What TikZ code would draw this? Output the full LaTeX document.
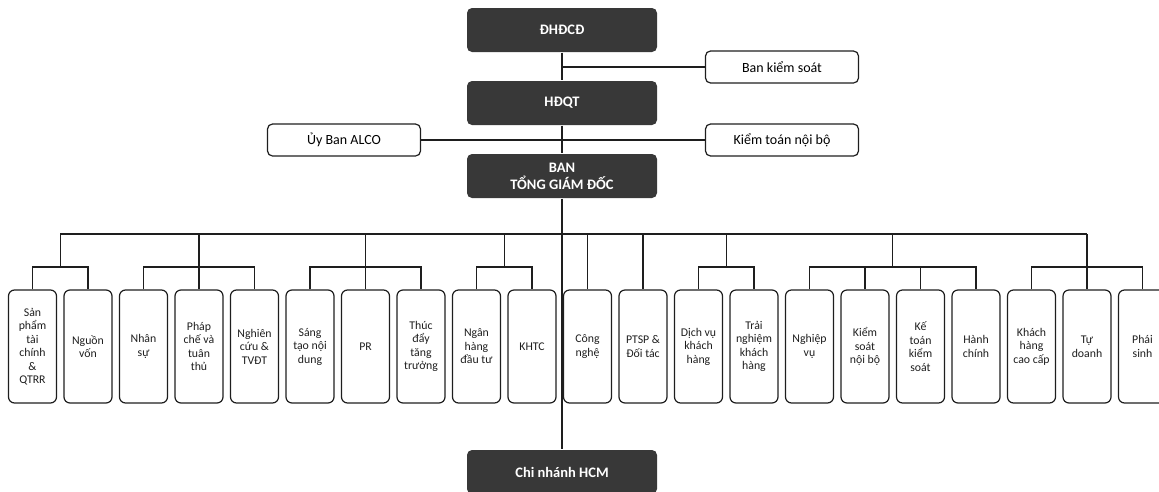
\documentclass[tikz,border=0pt]{standalone}
\usepackage{fontspec}
\setmainfont{Carlito}
\usetikzlibrary{calc}
\definecolor{boxdark}{RGB}{56,56,56}
\definecolor{inkgray}{RGB}{30,30,30}
\begin{document}
\begin{tikzpicture}[x=1pt,y=-1pt,line width=1.2pt,draw=inkgray,
	lead/.style={fill=boxdark,rounded corners=5pt,minimum width=190pt,minimum height=44pt,text=white,font=\fontsize{14.5}{17}\selectfont\bfseries,align=center,inner sep=0pt},
	side/.style={draw=inkgray,rounded corners=5pt,minimum width=153pt,minimum height=32pt,font=\fontsize{14}{16}\selectfont,inner sep=0pt},
	unit/.style={draw=inkgray,rounded corners=6pt,minimum width=48pt,minimum height=113pt,text=inkgray,font=\fontsize{11.8}{13.5}\selectfont,align=center,inner sep=0pt}]
	\useasboundingbox (0,0) rectangle (1159,491);
	\clip (0,0) rectangle (1159,491);
	
	\node[lead] (dhcd) at (562,30){ĐHĐCĐ};
	\node[lead] (hdqt) at (562,103){HĐQT};
	\node[lead] (ban) at (562,176){BAN\\TỔNG GIÁM ĐỐC};
	\node[lead] (cn) at (562,472){Chi nhánh HCM};
	\node[side] (bks) at (782,67){Ban kiểm soát};
	\node[side] (alco) at (344,140){Ủy Ban ALCO};
	\node[side] (ktnb) at (782,140){Kiểm toán nội bộ};
	
	\foreach \t [count=\i] in {{Sản\\phẩm\\tài\\chính\\\&\\QTRR},{Nguồn\\vốn},{Nhân\\sự},{Pháp\\chế và\\tuân\\thủ},{Nghiên\\cứu \&\\TVĐT},{Sáng\\tạo nội\\dung},{PR},{Thúc\\đẩy\\tăng\\trưởng},{Ngân\\hàng\\đầu tư},{KHTC},{Công\\nghệ},{PTSP \&\\Đối tác},{Dịch vụ\\khách\\hàng},{Trải\\nghiệm\\khách\\hàng},{Nghiệp\\vụ},{Kiểm\\soát\\nội bộ},{Kế\\toán\\kiểm\\soát},{Hành\\chính},{Khách\\hàng\\cao cấp},{Tự\\doanh},{Phái\\sinh}}
		\node[unit] (u\i) at ({32.5+55.5*(\i-1)},346.5){\t};
	
	\draw (dhcd) -- (hdqt);
	\draw (hdqt) -- (ban);
	\draw (ban) -- (cn);
	\draw (bks.west) -- (bks.west -| dhcd.south);
	\draw (alco) -- (ktnb);
	
	\coordinate (bus) at (0,234);
	\coordinate (sub) at (0,267);
	\coordinate (g1) at ($(u1.north)!.5!(u2.north)$);
	\coordinate (g4) at ($(u9.north)!.5!(u10.north)$);
	\coordinate (g5) at ($(u13.north)!.5!(u14.north)$);
	\coordinate (g6) at ($(u16.north)!.5!(u17.north)$);
	\draw (g1 |- bus) -- (u20.north |- bus);
	
	\draw (u1.north) |- (u2.north |- sub) -- (u2.north);
	\draw (g1 |- bus) -- (g1 |- sub);
	\draw (u3.north) |- (u5.north |- sub) -- (u5.north);
	\draw (u4.north |- bus) -- (u4.north);
	\draw (u6.north) |- (u8.north |- sub) -- (u8.north);
	\draw (u7.north |- bus) -- (u7.north);
	\draw (u9.north) |- (u10.north |- sub) -- (u10.north);
	\draw (g4 |- bus) -- (g4 |- sub);
	\draw (u11.north |- bus) -- (u11.north);
	\draw (u12.north |- bus) -- (u12.north);
	\draw (u13.north) |- (u14.north |- sub) -- (u14.north);
	\draw (g5 |- bus) -- (g5 |- sub);
	\draw (u15.north) |- (u18.north |- sub) -- (u18.north);
	\draw (u16.north |- sub) -- (u16.north);
	\draw (u17.north |- sub) -- (u17.north);
	\draw (g6 |- bus) -- (g6 |- sub);
	\draw (u19.north) |- (u21.north |- sub) -- (u21.north);
	\draw (u20.north |- bus) -- (u20.north);
\end{tikzpicture}
\end{document}
